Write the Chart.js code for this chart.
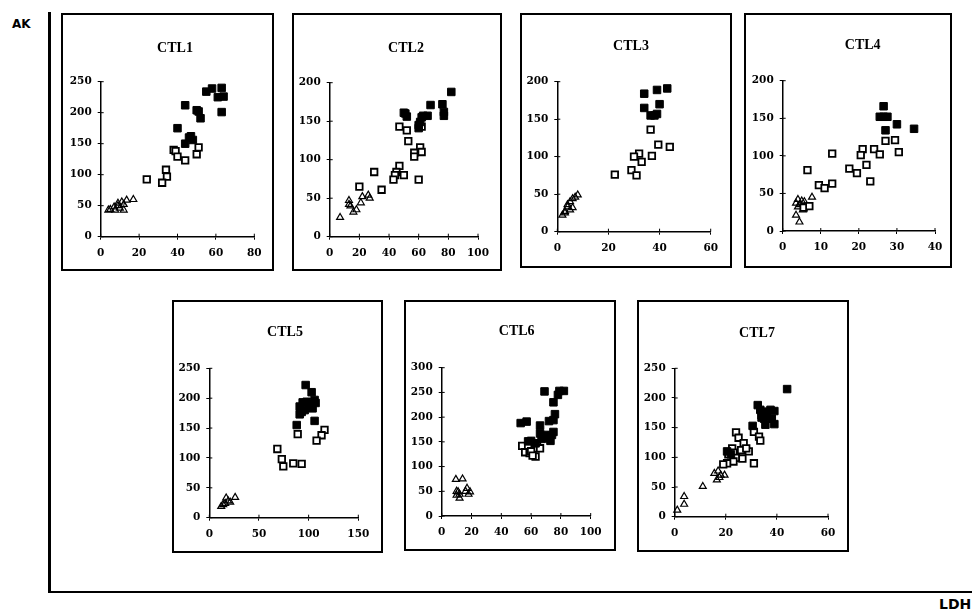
<!DOCTYPE html>
<html>
<head>
<meta charset="utf-8">
<script src="https://cdn.jsdelivr.net/npm/chart.js@4.4.0/dist/chart.umd.min.js"></script>
<style>
  html, body { margin: 0; padding: 0; background: #fff; }
  body { width: 972px; height: 613px; position: relative; overflow: hidden; }
  .frame { position: absolute; left: 48px; top: 12px; width: 924px; height: 579px;
           border-left: 3px solid #000; border-bottom: 2px solid #000; }
  .panel { position: absolute; border: 2px solid #000; box-sizing: border-box; background: #fff; }
  .panel canvas { display: block; }
  .lab { position: absolute; font-family: 'DejaVu Sans'; font-weight: bold; color: #000; white-space: nowrap; }
</style>
</head>
<body>
<div class="frame"></div>
<div class="lab" style="left:12px; top:18px; font-size:12px; line-height:12px;">AK</div>
<div class="lab" style="left:939px; top:597px; font-size:14px; line-height:14px;">LDH</div>

<script>
// panel titles and axis ranges
var titles = ['CTL1', 'CTL2', 'CTL3', 'CTL4', 'CTL5', 'CTL6', 'CTL7'];
var xMax = [80, 100, 60, 40, 150, 100, 60];
var xStep = [20, 20, 20, 10, 50, 20, 20];
var yMax = [250, 200, 200, 200, 250, 300, 250];
var yStep = [50, 50, 50, 50, 50, 50, 50];

// [LDH, AK] pairs
var ctl1Tri = [[4,43],[5,44],[7,48],[7.5,43],[9,54],[10,46],[11,56],[12,43],[13.5,59],[17,60],[9,50],[12,52]];
var ctl1Open = [[38,140],[39,138],[40,129],[44,123],[51,144],[50,133],[34,108],[34.5,97],[32,87],[24,92.5]];
var ctl1Filled = [[40,175],[44,212],[44,150],[46,160],[47,162],[48,156],[50,204],[51,202],[52,191],[55,234],[58,239],[63,240],[61,225],[64,226],[63,201]];

var ctl2Tri = [[7,25],[13,47],[14,40],[16,32],[18,35],[21,44],[22,52],[26,54],[27,50],[13,42]];
var ctl2Open = [[47,143],[52,138],[53,124],[62,143],[61,116],[62,110],[57,109],[57,104],[47,92],[45,84],[44,80],[43,74],[50,80],[60,74],[30,84],[35,61],[20,65]];
var ctl2Filled = [[50,161],[51,160],[52,156],[60,141],[61,149],[62,155],[63,157],[66,157],[68,171],[76,172],[77,162],[77,157],[82,188],[60,145]];

var ctl3Tri = [[8,49],[7,46],[6,44],[5,40],[4,33],[3,27],[2,22],[5,29],[4,36],[6,32],[3,25]];
var ctl3Open = [[36.5,136],[39.5,116],[44,113],[32,104],[30,100],[33,93],[37,101],[29,82],[31,75],[22.5,76]];
var ctl3Filled = [[34,184],[39,189],[43,191],[34,165],[40,170],[36.5,155],[38,155],[39,157]];

var ctl4Tri = [[7.7,45],[5.7,39],[6.6,32],[4,42],[3.5,37],[4,32],[3.5,21],[4.4,12],[5.3,28],[4.5,35],[5,40]];
var ctl4Open = [[27,120],[29.5,121],[30.5,105],[21,109],[20.5,101],[24,109],[25.5,102],[22,88],[19.5,77],[17.5,83],[23,66],[13,63],[9.5,61],[11,57],[6.5,81],[13,103],[5.5,31],[7,33]];
var ctl4Filled = [[26.5,166],[25.5,152],[27.5,152],[27,134],[30,142],[34.5,136],[26.5,152]];

var ctl5Tri = [[12,19],[17,33],[21,26],[26,34],[16,24],[14,22],[19,28]];
var ctl5Open = [[89,140],[116,147],[113,138],[108,129],[68.5,115],[73,98],[74.5,86],[84.5,91],[93,90]];
var ctl5Filled = [[97,222],[103,210],[94,193],[98,194],[106,197],[107,192],[91,186],[93,177],[96,180],[101,184],[91,173],[88,155],[106,162],[104,183],[100,190]];

var ctl6Tri = [[9.5,74],[14,75],[11,49],[12,44],[10,42],[17,56],[18,44],[19,49],[12,36],[16,50],[10,50]];
var ctl6Open = [[54,142],[58,140],[64,147],[56,129],[59,127],[63,120],[63,137],[66,137],[60,131],[61,122]];
var ctl6Filled = [[69,252],[79,253],[82,253],[78,245],[75,230],[76,206],[72,192],[75,194],[53,188],[57,191],[66,183],[66,167],[69,164],[74,164],[75,170],[72,157],[73,152],[58,151],[60,152],[63,147],[67,156],[70,160]];

var ctl7Tri = [[15.5,73],[17,77],[18,70],[16.5,62],[19.5,70],[11,51],[3.7,34],[3.7,21],[1,11],[17.5,66]];
var ctl7Open = [[24,142],[25,133],[31,143],[33,135],[33.5,128],[27,124],[22.5,115],[23,108],[21,105],[26,112],[29,110],[24,99],[23,93],[20.5,90],[19,88],[26.5,98],[31,90],[28,115]];
var ctl7Filled = [[44,215],[32.5,188],[33.5,180],[35.5,177],[37.5,180],[39,178],[34,167],[35,165],[38,165],[39,156],[35.5,155],[30.5,153],[34,171],[36,170],[20.5,110],[22,105]];

var triSets = [ctl1Tri, ctl2Tri, ctl3Tri, ctl4Tri, ctl5Tri, ctl6Tri, ctl7Tri];
var openSets = [ctl1Open, ctl2Open, ctl3Open, ctl4Open, ctl5Open, ctl6Open, ctl7Open];
var filledSets = [ctl1Filled, ctl2Filled, ctl3Filled, ctl4Filled, ctl5Filled, ctl6Filled, ctl7Filled];

// page layout: box left, top, right, bottom; plot x0, top, x1, y0; title centre x, y
var boxes = [
  [61, 13, 274, 271, 100.7, 81.7, 254.3, 236.7, 175, 48],
  [292, 13, 502, 271, 329.7, 82.7, 478, 236.7, 406, 48],
  [520, 13, 732, 268, 557.3, 81.7, 710.7, 231.7, 631, 46.7],
  [744, 13, 952, 268, 782.7, 80.7, 935, 231, 862.7, 45],
  [172, 300, 383, 553, 209.3, 368.3, 358.3, 517.7, 285, 332.7],
  [404, 300, 616, 551, 441.7, 367.7, 590.7, 516, 516.7, 331.7],
  [637, 300, 849, 552, 674.7, 368.3, 828, 516.7, 757, 333.3]
];

function toPoints(arr) {
  return arr.map(function (p) { return { x: p[0], y: p[1] }; });
}

var tickFont = { family: 'DejaVu Serif', weight: 'bold', size: 10.5 };

// panel title + small inner half of the cross-shaped tick marks
var panelPlugin = {
  id: 'panelTitle',
  afterDraw: function (chart, args, opts) {
    var ctx = chart.ctx;
    var xs = chart.scales.x, ys = chart.scales.y;
    var area = chart.chartArea;
    ctx.save();
    ctx.strokeStyle = '#000';
    ctx.lineWidth = 1;
    ctx.beginPath();
    xs.ticks.forEach(function (t) {
      var px = xs.getPixelForValue(t.value);
      ctx.moveTo(px, area.bottom);
      ctx.lineTo(px, area.bottom - 3);
    });
    ys.ticks.forEach(function (t) {
      var py = ys.getPixelForValue(t.value);
      ctx.moveTo(area.left, py);
      ctx.lineTo(area.left + 3, py);
    });
    ctx.stroke();
    ctx.font = 'bold 14px "Liberation Serif"';
    ctx.fillStyle = '#000';
    ctx.textAlign = 'center';
    ctx.textBaseline = 'middle';
    ctx.fillText(opts.text, opts.x, opts.y);
    ctx.restore();
  }
};

titles.forEach(function (title, i) {
  var b = boxes[i];
  var cl = b[0] + 2, ct = b[1] + 2;
  var cw = b[2] - b[0] - 4, ch = b[3] - b[1] - 4;

  var div = document.createElement('div');
  div.className = 'panel';
  div.style.left = b[0] + 'px';
  div.style.top = b[1] + 'px';
  div.style.width = (b[2] - b[0]) + 'px';
  div.style.height = (b[3] - b[1]) + 'px';
  var canvas = document.createElement('canvas');
  canvas.width = cw;
  canvas.height = ch;
  div.appendChild(canvas);
  document.body.appendChild(div);

  var yWidth = b[4] - cl;
  var xHeight = ct + ch - b[7];

  new Chart(canvas.getContext('2d'), {
    type: 'scatter',
    data: {
      datasets: [{
        data: toPoints(filledSets[i]),
        pointStyle: 'rect',
        pointRadius: 5.3,
        pointBorderWidth: 1,
        pointBorderColor: '#000',
        pointBackgroundColor: '#000',
        clip: false
      }, {
        data: toPoints(openSets[i]),
        pointStyle: 'rect',
        pointRadius: 4.6,
        pointBorderWidth: 1.8,
        pointBorderColor: '#000',
        pointBackgroundColor: '#fff',
        clip: false
      }, {
        data: toPoints(triSets[i]),
        pointStyle: 'triangle',
        pointRadius: 4,
        pointBorderWidth: 1.2,
        pointBorderColor: '#000',
        pointBackgroundColor: 'rgba(255,255,255,0)',
        clip: false
      }]
    },
    options: {
      responsive: false,
      animation: false,
      events: [],
      layout: {
        padding: { left: 0, top: b[5] - ct, right: cl + cw - b[6], bottom: 0 }
      },
      plugins: {
        legend: { display: false },
        tooltip: { enabled: false },
        title: { display: false },
        panelTitle: { text: title, x: b[8] - cl, y: b[9] - ct }
      },
      scales: {
        x: {
          type: 'linear',
          position: 'bottom',
          min: 0,
          max: xMax[i],
          afterFit: function (scale) { scale.height = xHeight; },
          grid: { drawOnChartArea: false, tickLength: 3, color: '#000', lineWidth: 1 },
          border: { display: true, color: '#000', width: 1.5 },
          ticks: { stepSize: xStep[i], color: '#000', font: tickFont, padding: 7, maxRotation: 0, autoSkip: false }
        },
        y: {
          type: 'linear',
          position: 'left',
          min: 0,
          max: yMax[i],
          afterFit: function (scale) { scale.width = yWidth; },
          grid: { drawOnChartArea: false, tickLength: 3, color: '#000', lineWidth: 1 },
          border: { display: true, color: '#000', width: 1.5 },
          ticks: { stepSize: yStep[i], color: '#000', font: tickFont, padding: 6, autoSkip: false }
        }
      }
    },
    plugins: [panelPlugin]
  });
});
</script>
</body>
</html>
